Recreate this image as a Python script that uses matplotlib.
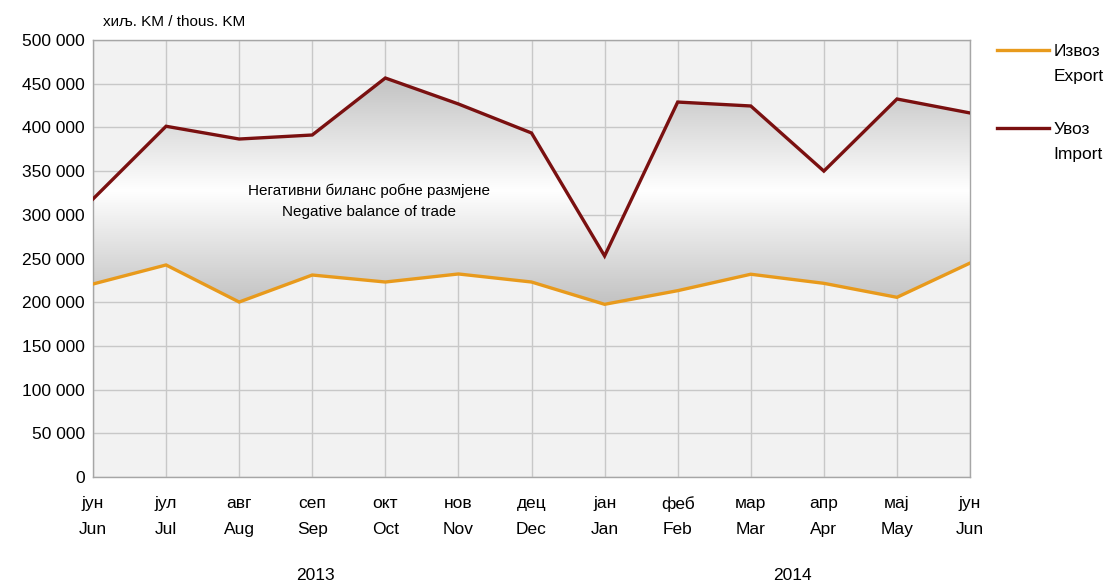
import numpy as np
import matplotlib.pyplot as plt
from matplotlib.colors import LinearSegmentedColormap
from matplotlib.lines import Line2D

plt.rcParams['font.family'] = ['Liberation Sans', 'DejaVu Sans']

months_sr = ["јун", "јул", "авг", "сеп", "окт", "нов", "дец",
             "јан", "феб", "мар", "апр", "мај", "јун"]
months_en = ["Jun", "Jul", "Aug", "Sep", "Oct", "Nov", "Dec",
             "Jan", "Feb", "Mar", "Apr", "May", "Jun"]
export_vals = [220800, 242600, 200200, 231100, 223100, 232300, 223100,
               197600, 213200, 232000, 221600, 205600, 244800]
import_vals = [318000, 401300, 386700, 391300, 456500, 426800, 393600,
               252900, 429000, 424500, 350000, 432500, 416500]


def main() -> None:
    fig = plt.figure(figsize=(11.08, 5.83), dpi=100)
    ax = fig.add_axes([0.0839, 0.1818, 0.7916, 0.7496])
    ax.set_facecolor("#f2f2f2")

    x = np.arange(len(months_en))
    ax.set_xlim(0, len(x) - 1)
    ax.set_ylim(0, 500000)

    # gradient fill between the two lines
    poly = ax.fill_between(x, export_vals, import_vals, color="none", lw=0)
    cmap = LinearSegmentedColormap.from_list("g", ["#c2c2c2", "#ffffff", "#c2c2c2"])
    lo, hi = min(export_vals), max(import_vals)
    grad = np.linspace(0, 1, 256).reshape(-1, 1)
    img = ax.imshow(grad, cmap=cmap, aspect="auto", origin="lower",
                    extent=[0, len(x) - 1, lo, hi], zorder=1.5)
    img.set_clip_path(poly.get_paths()[0], transform=ax.transData)

    ax.plot(x, export_vals, color="#e89a1c", lw=2.4, zorder=3, solid_joinstyle="miter")
    ax.plot(x, import_vals, color="#7a1010", lw=2.4, zorder=3, solid_joinstyle="miter")

    ax.set_yticks(np.arange(0, 500001, 50000))
    ax.set_yticklabels([f"{v:,}".replace(",", " ") for v in range(0, 500001, 50000)],
                       fontsize=12.5)
    ax.set_xticks(x)
    ax.set_xticklabels([f"{s}\n{e}" for s, e in zip(months_sr, months_en)],
                       fontsize=12.5, linespacing=1.85)
    ax.tick_params(length=0)
    ax.tick_params(axis="x", pad=14)
    ax.tick_params(axis="y", pad=6)
    ax.grid(True, color="#c8c8c8", lw=1.0)
    ax.set_axisbelow(True)
    for s in ax.spines.values():
        s.set_color("#a6a6a6")
        s.set_linewidth(1.0)

    ax.text(3.78, 315800, "Негативни биланс робне размјене\nNegative balance of trade",
            ha="center", va="center", fontsize=11, linespacing=1.6, zorder=4)

    fig.text(0.093, 0.962, "хиљ. KM / thous. KM", fontsize=11, va="center")
    fig.text(0.285, 0.0, "2013", fontsize=12.5, ha="center", va="bottom")
    fig.text(0.715, 0.0, "2014", fontsize=12.5, ha="center", va="bottom")

    # legend
    fig.add_artist(Line2D([0.9, 0.947], [0.914, 0.914], color="#e89a1c", lw=2.4))
    fig.add_artist(Line2D([0.9, 0.947], [0.78, 0.78], color="#7a1010", lw=2.4))
    fig.text(0.951, 0.89, "Извоз\nExport", fontsize=12.5, va="center", linespacing=1.85)
    fig.text(0.951, 0.757, "Увоз\nImport", fontsize=12.5, va="center", linespacing=1.85)

    fig.savefig("out.png", dpi=100)


if __name__ == '__main__':
    main()
